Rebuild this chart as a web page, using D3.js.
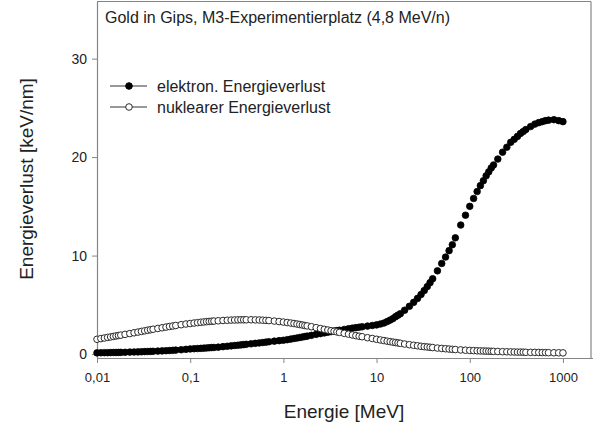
<!DOCTYPE html>
<html><head><meta charset="utf-8">
<script src="https://cdn.jsdelivr.net/npm/d3@7"></script>
<style>
body{margin:0;background:#fff;}
svg{display:block;font-family:"Liberation Sans",Arial,sans-serif;}
</style></head>
<body>
<svg id="chart" width="593" height="427"></svg>
<script>
const energy = [
0.01,0.011,0.012,0.013,0.014,0.015,0.016,0.017,0.018,0.02,0.0225,0.025,0.0275,0.03,0.0325,0.035,0.0375,0.04,0.045,0.05,0.055,0.06,0.065,0.07,0.08,0.09,
0.1,0.11,0.12,0.13,0.14,0.15,0.16,0.17,0.18,0.2,0.225,0.25,0.275,0.3,0.325,0.35,0.375,0.4,0.45,0.5,0.55,0.6,0.65,0.7,0.8,0.9,
1,1.1,1.2,1.3,1.4,1.5,1.6,1.7,1.8,2,2.25,2.5,2.75,3,3.25,3.5,3.75,4,4.5,5,5.5,6,6.5,7,8,9,
10,11,12,13,14,15,16,17,18,20,22.5,25,27.5,30,32.5,35,37.5,40,45,50,55,60,65,70,80,90,
100,110,120,130,140,150,160,170,180,200,225,250,275,300,325,350,375,400,450,500,550,600,650,700,800,900,
1000];
const elektron = [
0.12,0.13,0.14,0.14,0.15,0.16,0.16,0.17,0.17,0.18,0.20,0.21,0.22,0.23,0.25,0.26,0.27,0.28,0.30,0.32,0.34,0.36,0.38,0.40,0.44,0.48,
0.52,0.54,0.56,0.58,0.60,0.62,0.64,0.66,0.67,0.70,0.75,0.79,0.83,0.87,0.90,0.93,0.96,0.99,1.04,1.09,1.13,1.17,1.21,1.25,1.31,1.36,
1.40,1.46,1.52,1.58,1.63,1.68,1.73,1.78,1.82,1.90,2.00,2.08,2.15,2.22,2.28,2.33,2.38,2.42,2.50,2.57,2.63,2.68,2.73,2.77,2.84,2.90,
2.96,3.05,3.15,3.30,3.45,3.60,3.80,3.95,4.10,4.45,4.85,5.25,5.65,6.05,6.45,6.85,7.25,7.65,8.45,9.20,9.85,10.5,11.1,11.8,13.1,14.1,
15.0,15.8,16.5,17.1,17.6,18.1,18.5,18.9,19.2,19.8,20.5,21.0,21.5,21.8,22.1,22.4,22.6,22.8,23.1,23.35,23.5,23.6,23.7,23.75,23.8,23.7,
23.6];
const nuklear = [
1.50,1.57,1.63,1.69,1.74,1.79,1.84,1.88,1.92,2.00,2.08,2.16,2.23,2.30,2.36,2.42,2.47,2.52,2.60,2.67,2.74,2.80,2.85,2.90,2.98,3.05,
3.10,3.15,3.19,3.23,3.26,3.29,3.31,3.33,3.35,3.38,3.41,3.43,3.45,3.46,3.47,3.48,3.48,3.48,3.48,3.47,3.46,3.44,3.42,3.40,3.35,3.30,
3.25,3.20,3.15,3.10,3.05,3.00,2.95,2.90,2.86,2.78,2.68,2.59,2.51,2.44,2.37,2.31,2.25,2.20,2.10,2.02,1.94,1.87,1.81,1.76,1.66,1.58,
1.50,1.43,1.37,1.31,1.26,1.21,1.17,1.13,1.09,1.02,0.95,0.89,0.84,0.79,0.75,0.72,0.69,0.66,0.61,0.57,0.54,0.51,0.48,0.46,0.42,0.39,
0.37,0.35,0.33,0.32,0.31,0.30,0.29,0.28,0.27,0.26,0.24,0.23,0.22,0.21,0.20,0.20,0.19,0.18,0.17,0.17,0.16,0.15,0.15,0.14,0.13,0.13,
0.12];
const xTicks = [0.01, 0.1, 1, 10, 100, 1000];
const xTickLabels = ["0,01", "0,1", "1", "10", "100", "1000"];
const yTicks = [0, 10, 20, 30];
const seriesNames = ["elektron. Energieverlust", "nuklearer Energieverlust"];
const title = "Gold in Gips, M3-Experimentierplatz (4,8 MeV/n)";
const xTitle = "Energie [MeV]";
const yTitle = "Energieverlust [keV/nm]";

const svg = d3.select("#chart");
const L = 97, R = 591, T = 1.5, B = 358;
const x = d3.scaleLog().domain([0.01, 2000]).range([L, R]);
const y = d3.scaleLinear().domain([-0.4, 35.8]).range([B, T]);
const axisCol = "#858585", textCol = "#222";
const mr = 3.3;

// frame top/right
svg.append("line").attr("x1", L).attr("x2", R).attr("y1", T).attr("y2", T).attr("stroke", axisCol).attr("stroke-width", 1.2);
svg.append("line").attr("x1", R).attr("x2", R).attr("y1", T).attr("y2", B).attr("stroke", axisCol).attr("stroke-width", 1.2);

const gx = svg.append("g").attr("transform", `translate(0,${B})`)
  .call(d3.axisBottom(x).tickValues(xTicks).tickFormat((d,i)=>xTickLabels[i]).tickSize(5).tickSizeOuter(0).tickPadding(10));
gx.select(".domain").attr("stroke", axisCol).attr("stroke-width", 1.2).attr("d", `M${L},0.5H593`);
gx.selectAll(".tick line").attr("stroke", axisCol);
gx.selectAll("text").attr("fill", textCol).attr("font-size", 13).attr("font-family", "Liberation Sans, Arial, sans-serif");

const gy = svg.append("g").attr("transform", `translate(${L},0)`)
  .call(d3.axisLeft(y).tickValues(yTicks).tickSize(5).tickSizeOuter(0).tickPadding(5));
gy.select(".domain").attr("stroke", axisCol).attr("stroke-width", 1.2);
gy.selectAll(".tick line").attr("stroke", axisCol);
gy.selectAll("text").attr("fill", textCol).attr("font-size", 14).attr("font-family", "Liberation Sans, Arial, sans-serif");

// data
const dE = energy.map((e,i)=>({e, v: elektron[i]}));
const dN = energy.map((e,i)=>({e, v: nuklear[i]}));
svg.append("g").selectAll("circle").data(dE).join("circle")
  .attr("cx", d=>x(d.e)).attr("cy", d=>y(d.v)).attr("r", mr)
  .attr("fill", "#000").attr("stroke", "#000").attr("stroke-width", 0.8);
svg.append("g").selectAll("circle").data(dN).join("circle")
  .attr("cx", d=>x(d.e)).attr("cy", d=>y(d.v)).attr("r", mr)
  .attr("fill", "#fff").attr("stroke", "#2a2a2a").attr("stroke-width", 1);

// title
svg.append("text").attr("x", 105).attr("y", 23).attr("font-size", 16).attr("fill", textCol).text(title);

// legend
const leg = svg.append("g");
seriesNames.forEach((name, i) => {
  const ly = 86 + i * 21;
  leg.append("line").attr("x1", 110).attr("x2", 147).attr("y1", ly).attr("y2", ly).attr("stroke", "#333").attr("stroke-width", 1);
  leg.append("circle").attr("cx", 129).attr("cy", ly).attr("r", mr)
    .attr("fill", i === 0 ? "#000" : "#fff").attr("stroke", i === 0 ? "#000" : "#2a2a2a").attr("stroke-width", 1);
  leg.append("text").attr("x", 157).attr("y", ly + 5.5).attr("font-size", 16).attr("fill", textCol).text(name);
});

// axis titles
svg.append("text").attr("x", (L+R)/2).attr("y", 418).attr("text-anchor", "middle").attr("font-size", 19).attr("fill", textCol).text(xTitle);
svg.append("text").attr("transform", `translate(33,179) rotate(-90)`).attr("text-anchor", "middle").attr("font-size", 19).attr("fill", textCol).text(yTitle);
</script>
</body></html>
